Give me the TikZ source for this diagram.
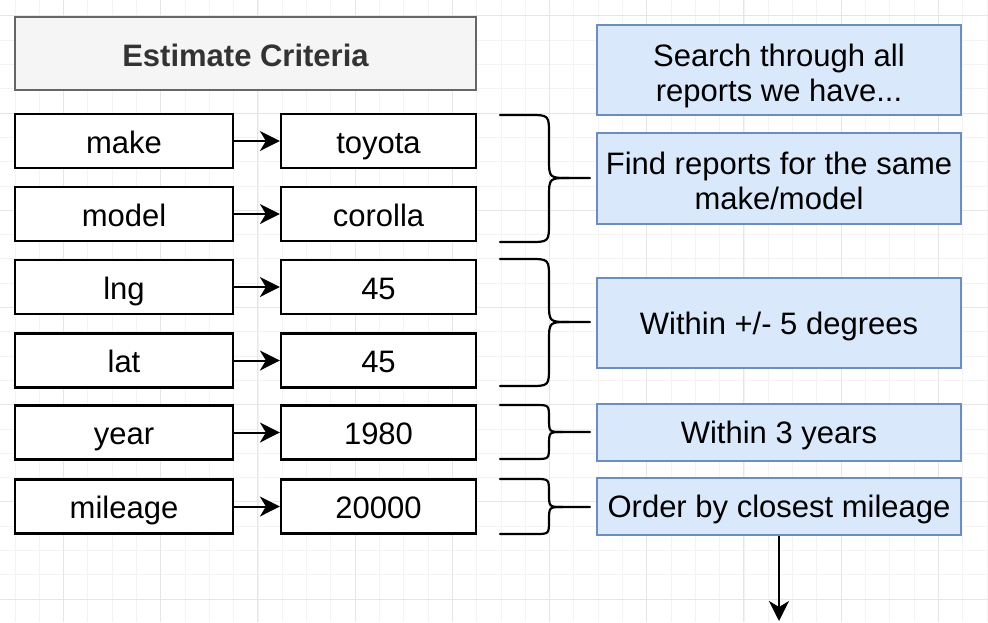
\documentclass[tikz,border=0pt]{standalone}
\usepackage{fontspec}
\setmainfont{Liberation Sans}
\usetikzlibrary{arrows.meta}
\definecolor{blueFill}{HTML}{DAE8FC}
\definecolor{blueLine}{HTML}{6C8EBF}
\definecolor{grayFill}{HTML}{F5F5F5}
\definecolor{grayLine}{HTML}{666666}
\definecolor{titleText}{HTML}{333333}
\definecolor{gridMinor}{HTML}{F3F3F3}
\definecolor{gridMajor}{HTML}{E6E6E6}
\tikzset{
  keybox/.style={draw=black, line width=2.2pt, fill=white, inner sep=0pt, minimum width=218pt, minimum height=54pt, text height=24pt, text depth=0pt, font=\fontsize{31}{37}\selectfont},
  valbox/.style={keybox, minimum width=195pt},
  bluebox/.style={draw=blueLine, line width=2.2pt, fill=blueFill, inner sep=0pt, minimum width=364pt, align=center, font=\fontsize{31}{35}\selectfont},
  oneline/.style={text height=23pt, text depth=1pt},
  twoline/.style={text height=68.5pt, text depth=6.5pt},
  titlebox/.style={draw=grayLine, line width=2.2pt, fill=grayFill, inner sep=0pt, minimum width=461pt, minimum height=73pt, text height=25pt, text depth=0pt, text=titleText, font=\bfseries\fontsize{31}{37}\selectfont},
  link/.style={line width=2pt, -{Stealth[length=20pt,width=20pt,inset=6pt]}},
  bracepath/.style={line width=2.2pt, line cap=round},
}
\newcommand{\mybrace}[3]{% top, middle, bottom
  \pgfmathsetmacro{\rr}{min(20,(#3-#1)/4)}
  \draw[bracepath] (500,#1) -- (549-\rr,#1) .. controls (549,#1) .. (549,#1+\rr) -- (549,#2-\rr) .. controls (549,#2) .. (549+\rr,#2) -- (590,#2);
  \draw[bracepath] (549+\rr,#2) .. controls (549,#2) .. (549,#2+\rr) -- (549,#3-\rr) .. controls (549,#3) .. (549-\rr,#3) -- (500,#3);
}
\begin{document}
\begin{tikzpicture}[x=1pt,y=-1pt]
\useasboundingbox (0,0) rectangle (988,622);
\fill[white] (0,0) rectangle (988,622);
% grid
\foreach \i in {0,...,40} {
  \draw[gridMinor, line width=0.8pt] ({14.9+24.3*\i},0) -- ({14.9+24.3*\i},622);
}
\foreach \i in {0,...,25} {
  \draw[gridMinor, line width=0.8pt] (0,{15.8+24.3*\i}) -- (988,{15.8+24.3*\i});
}
\foreach \i in {0,...,9} {
  \draw[gridMajor, line width=0.9pt] ({63.5+97.2*\i},0) -- ({63.5+97.2*\i},622);
}
\foreach \i in {0,...,6} {
  \draw[gridMajor, line width=0.9pt] (0,{15.8+97.2*\i}) -- (988,{15.8+97.2*\i});
}
% title
\node[titlebox] (title) at (245.5,53.5) {Estimate Criteria};
% key/value rows
\node[keybox] (kmake) at (124,141) {make};
\node[valbox] (vmake) at (378.5,141) {toyota};
\node[keybox] (kmodel) at (124,214) {model};
\node[valbox] (vmodel) at (378.5,214) {corolla};
\node[keybox] (klng) at (124,287) {lng};
\node[valbox] (vlng) at (378.5,287) {45};
\node[keybox] (klat) at (124,360.5) {lat};
\node[valbox] (vlat) at (378.5,360.5) {45};
\node[keybox] (kyear) at (124,432.5) {year};
\node[valbox] (vyear) at (378.5,432.5) {1980};
\node[keybox] (kmile) at (124,506.5) {mileage};
\node[valbox] (vmile) at (378.5,506.5) {20000};
\foreach \a/\b in {kmake/vmake,kmodel/vmodel,klng/vlng,klat/vlat,kyear/vyear,kmile/vmile}
  \draw[link] (\a.east) -- (\b.west);
% blue boxes
\node[bluebox, twoline, minimum height=90pt] (search) at (779,70) {Search through all\\reports we have...};
\node[bluebox, twoline, minimum height=91pt] (find) at (779,178.5) {Find reports for the same\\make/model};
\node[bluebox, oneline, minimum height=90pt] (deg) at (779,323) {Within +/- 5 degrees};
\node[bluebox, oneline, minimum height=57pt] (years) at (779,432.5) {Within 3 years};
\node[bluebox, oneline, minimum height=57pt] (order) at (779,506.5) {Order by closest mileage};
% braces
\mybrace{115}{178}{242}
\mybrace{259}{322}{386}
\mybrace{405}{432}{459}
\mybrace{479}{507}{534}
% final arrow
\coordinate (out) at (779,621);
\draw[link] (order.south) -- (out);
\end{tikzpicture}
\end{document}
